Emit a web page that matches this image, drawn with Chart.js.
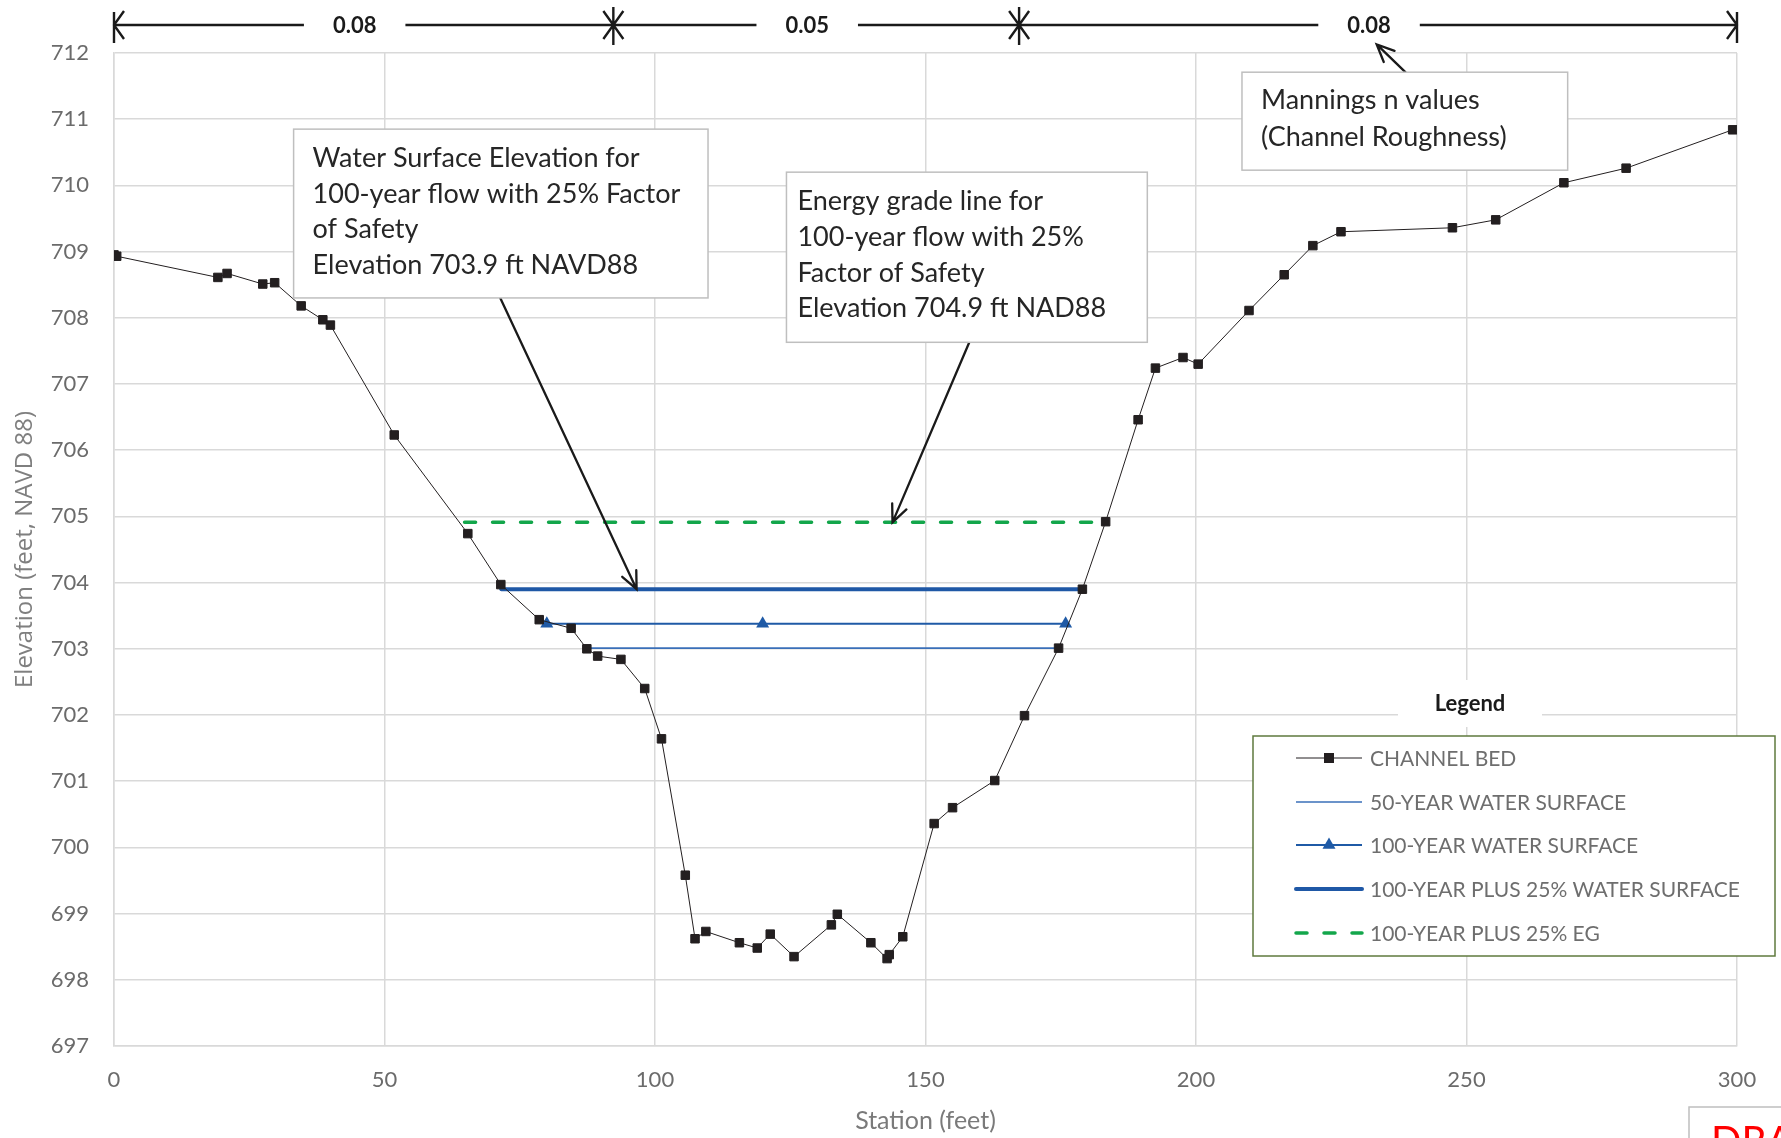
<!DOCTYPE html>
<html>
<head>
<meta charset="utf-8">
<script src="https://cdn.jsdelivr.net/npm/chart.js@4.4.0/dist/chart.umd.min.js"></script>
<style>
  html, body { margin: 0; padding: 0; background: #fff; }
  #wrap { width: 1781px; height: 1138px; }
</style>
</head>
<body>
<div id="wrap"><canvas id="xsChart" width="1781" height="1138"></canvas></div>
<script>
// Channel bed survey (station ft / elevation ft)
const bedStation = [0, 0.5, 19.2, 20.9, 27.5, 29.7, 34.6, 38.6, 40.0, 51.8,
  65.4, 71.5, 78.6, 84.5, 87.4, 89.4, 93.7, 98.1, 101.2, 105.6,
  107.4, 109.4, 115.6, 118.9, 121.3, 125.7, 132.6, 133.7, 139.9, 142.9,
  143.3, 145.8, 151.6, 155.0, 162.8, 168.3, 174.6, 179.0, 183.3, 189.3,
  192.5, 197.6, 200.4, 209.8, 216.3, 221.6, 226.8, 247.4, 255.4, 268.0,
  279.5, 299.2];
const bedElevation = [708.95, 708.93, 708.61, 708.67, 708.51, 708.53, 708.18, 707.97, 707.89, 706.23,
  704.74, 703.97, 703.44, 703.31, 703.0, 702.89, 702.84, 702.40, 701.64, 699.58,
  698.62, 698.73, 698.56, 698.48, 698.69, 698.35, 698.83, 698.99, 698.56, 698.32,
  698.38, 698.65, 700.36, 700.60, 701.01, 701.99, 703.01, 703.90, 704.92, 706.46,
  707.24, 707.40, 707.30, 708.11, 708.65, 709.09, 709.30, 709.36, 709.48, 710.04,
  710.26, 710.84];

// Water surfaces
const ws50Station = [87.9, 174.4];
const ws50Elevation = [703.01, 703.01];
const ws100Station = [80.0, 119.9, 175.9];
const ws100Elevation = [703.38, 703.38, 703.38];
const ws125Station = [71.6, 179.0];
const ws125Elevation = [703.9, 703.9];
const eg125Station = [64.8, 183.8];
const eg125Elevation = [704.91, 704.91];

const seriesLabels = ['CHANNEL BED', '50-YEAR WATER SURFACE', '100-YEAR WATER SURFACE',
  '100-YEAR PLUS 25% WATER SURFACE', '100-YEAR PLUS 25% EG'];

const stationTicks = [0, 50, 100, 150, 200, 250, 300];
const elevationTicks = [697, 698, 699, 700, 701, 702, 703, 704, 705, 706, 707, 708, 709, 710, 711, 712];

// Mannings n reaches (station breaks) and values
const nBreaks = [0, 92.3, 167.3, 300];
const nValues = ['0.08', '0.05', '0.08'];

function pts(xs, ys) {
    return xs.map((x, i) => ({ x: x, y: ys[i] }));
}

const GRID = '#d9d9d9';
const TICK_COLOR = '#6b6b6b';

// annotations, n-value bar, legend, draft stamp
const notesPlugin = {
    id: 'xsNotes',
    afterDatasetsDraw(chart) {
        const ctx = chart.ctx;
        const xs = chart.scales.x, ys = chart.scales.y;
        const px = v => xs.getPixelForValue(v);
        const py = v => ys.getPixelForValue(v);

        ctx.save();

        // text boxes
        function box(x0, y0, x1, y1, lines, padX, firstY, step) {
            const l = px(x0), t = py(y0), r = px(x1), b = py(y1);
            ctx.fillStyle = '#ffffff';
            ctx.fillRect(l, t, r - l, b - t);
            ctx.strokeStyle = '#bfbfbf';
            ctx.lineWidth = 1.5;
            ctx.strokeRect(l, t, r - l, b - t);
            ctx.fillStyle = '#262626';
            ctx.font = '27px Lato';
            ctx.textAlign = 'left';
            ctx.textBaseline = 'middle';
            lines.forEach((s, i) => ctx.fillText(s, l + padX, t + firstY + i * step));
        }

        function arrow(x0, y0, x1, y1) {
            const ang = Math.atan2(y1 - y0, x1 - x0);
            const len = 19, spread = 0.42;
            ctx.strokeStyle = '#1a1a1a';
            ctx.lineWidth = 2.3;
            ctx.lineCap = 'round';
            ctx.beginPath();
            ctx.moveTo(x0, y0);
            ctx.lineTo(x1, y1);
            ctx.moveTo(x1 - len * Math.cos(ang - spread), y1 - len * Math.sin(ang - spread));
            ctx.lineTo(x1, y1);
            ctx.lineTo(x1 - len * Math.cos(ang + spread), y1 - len * Math.sin(ang + spread));
            ctx.stroke();
        }

        // arrows first so boxes sit over their tails
        arrow(px(71.4), py(708.3), px(96.6), py(703.9));
        arrow(px(158.1), py(707.63), px(143.9), py(704.91));
        arrow(px(238.7), py(711.71), px(233.4), py(712.13));

        box(33.2, 710.85, 109.8, 708.3,
            ['Water Surface Elevation for', '100-year flow with 25% Factor', 'of Safety', 'Elevation 703.9 ft NAVD88'],
            19, 29.5, 35.5);
        box(124.3, 710.2, 191.0, 707.63,
            ['Energy grade line for', '100-year flow with 25%', 'Factor of Safety', 'Elevation 704.9 ft NAD88'],
            11, 29.6, 35.6);
        box(208.5, 711.71, 268.7, 710.23,
            ['Mannings n values', '(Channel Roughness)'],
            19, 28.5, 36.4);

        // Mannings n bar above the plot
        const barY = chart.chartArea.top - 28;
        ctx.strokeStyle = '#1a1a1a';
        ctx.lineWidth = 2.4;
        ctx.lineCap = 'butt';
        ctx.font = 'bold 22px Lato';
        ctx.textAlign = 'center';
        ctx.textBaseline = 'middle';
        ctx.fillStyle = '#1a1a1a';
        for (let i = 0; i < nValues.length; i++) {
            const a = px(nBreaks[i]), b = px(nBreaks[i + 1]);
            const cx = (a + b) / 2 - 9;
            const half = ctx.measureText(nValues[i]).width / 2 + 29;
            ctx.beginPath();
            ctx.moveTo(a, barY); ctx.lineTo(cx - half, barY);
            ctx.moveTo(cx + half, barY); ctx.lineTo(b, barY);
            ctx.stroke();
            ctx.fillText(nValues[i], cx, barY + 1);
        }
        nBreaks.forEach((s, i) => {
            const x = px(s);
            const end = i === 0 || i === nBreaks.length - 1;
            ctx.beginPath();
            ctx.moveTo(x, end ? barY - 13 : barY - 18);
            ctx.lineTo(x, end ? barY + 18 : barY + 20);
            const dx = 10, dy = 14;
            if (i > 0) { // arrow pointing right into the break
                ctx.moveTo(x - dx, barY - dy); ctx.lineTo(x, barY); ctx.lineTo(x - dx, barY + dy);
            }
            if (i < nBreaks.length - 1) { // arrow pointing left into the break
                ctx.moveTo(x + dx, barY - dy); ctx.lineTo(x, barY); ctx.lineTo(x + dx, barY + dy);
            }
            ctx.stroke();
        });

        // legend
        const lg = { left: 1253, top: 736, right: 1775, bottom: 956 };
        ctx.fillStyle = '#ffffff';
        ctx.fillRect(1398, 680, 144, 47);
        ctx.fillStyle = '#1a1a1a';
        ctx.font = 'bold 22px Lato';
        ctx.textAlign = 'center';
        ctx.fillText('Legend', 1470, 704);

        ctx.fillStyle = '#ffffff';
        ctx.fillRect(lg.left, lg.top, lg.right - lg.left, lg.bottom - lg.top);
        ctx.strokeStyle = '#5f7a3e';
        ctx.lineWidth = 1.5;
        ctx.strokeRect(lg.left, lg.top, lg.right - lg.left, lg.bottom - lg.top);

        const rowY = [758, 802, 845, 889, 933];
        chart.data.datasets.forEach((ds, i) => {
            const y = rowY[i];
            ctx.save();
            ctx.strokeStyle = ds.borderColor;
            ctx.lineWidth = ds.borderWidth;
            ctx.lineCap = ds.borderCapStyle || 'butt';
            ctx.setLineDash(ds.borderDash || []);
            ctx.beginPath();
            ctx.moveTo(1296, y);
            ctx.lineTo(1362, y);
            ctx.stroke();
            ctx.restore();
            if (ds.pointRadius > 0) {
                ctx.fillStyle = ds.pointBackgroundColor;
                ctx.strokeStyle = ds.pointBorderColor;
                Chart.helpers.drawPoint(ctx, {
                    pointStyle: ds.pointStyle, radius: ds.pointRadius,
                    borderWidth: ds.pointBorderWidth, rotation: 0
                }, 1329, y);
            }
            ctx.fillStyle = '#6e6e6e';
            ctx.font = '21px Lato';
            ctx.textAlign = 'left';
            ctx.textBaseline = 'middle';
            ctx.fillText(ds.label, 1370, y + 1);
        });

        // draft stamp, cut off by the page edge
        ctx.strokeStyle = '#bfbfbf';
        ctx.lineWidth = 1.5;
        ctx.strokeRect(1689, 1107, 140, 80);
        ctx.fillStyle = '#ff0000';
        ctx.font = '40px Lato';
        ctx.textAlign = 'left';
        ctx.textBaseline = 'top';
        ctx.fillText('DRAFT', 1711, 1122);

        ctx.restore();
    }
};

const ctx = document.getElementById('xsChart').getContext('2d');
new Chart(ctx, {
    type: 'scatter',
    data: {
        datasets: [{
            label: seriesLabels[0],
            data: pts(bedStation, bedElevation),
            showLine: true,
            borderColor: '#231f20',
            borderWidth: 1,
            pointStyle: 'rect',
            pointRadius: 6,
            pointBackgroundColor: '#231f20',
            pointBorderColor: '#231f20',
            pointBorderWidth: 1
        }, {
            label: seriesLabels[1],
            data: pts(ws50Station, ws50Elevation),
            showLine: true,
            borderColor: '#3a6fb8',
            borderWidth: 1.6,
            pointRadius: 0
        }, {
            label: seriesLabels[2],
            data: pts(ws100Station, ws100Elevation),
            showLine: true,
            borderColor: '#1f5aa6',
            borderWidth: 2,
            pointStyle: 'triangle',
            pointRadius: 7.5,
            pointBackgroundColor: '#1f5aa6',
            pointBorderColor: '#1f5aa6',
            pointBorderWidth: 0
        }, {
            label: seriesLabels[3],
            data: pts(ws125Station, ws125Elevation),
            showLine: true,
            borderColor: '#1f58a6',
            borderWidth: 4,
            borderCapStyle: 'round',
            pointRadius: 0
        }, {
            label: seriesLabels[4],
            data: pts(eg125Station, eg125Elevation),
            showLine: true,
            borderColor: '#13a64b',
            borderWidth: 3.5,
            borderDash: [11, 17],
            borderCapStyle: 'round',
            pointRadius: 0
        }]
    },
    options: {
        responsive: false,
        animation: false,
        devicePixelRatio: 1,
        layout: { padding: { top: 53, right: 44, left: 0, bottom: 0 } },
        plugins: {
            legend: { display: false },
            tooltip: { enabled: false }
        },
        scales: {
            x: {
                type: 'linear',
                min: 0,
                max: 300,
                afterBuildTicks: s => { s.ticks = stationTicks.map(v => ({ value: v })); },
                afterFit: s => { s.height = 92; },
                grid: { color: GRID, lineWidth: 1.5, drawTicks: false },
                border: { color: GRID, width: 1.5 },
                ticks: { color: TICK_COLOR, font: { family: 'Lato', size: 22 }, padding: 21 },
                title: {
                    display: true,
                    text: 'Station (feet)',
                    color: '#7a7a7a',
                    font: { family: 'Lato', size: 25 },
                    padding: { top: 0, bottom: 2 }
                }
            },
            y: {
                type: 'linear',
                min: 697,
                max: 712,
                afterBuildTicks: s => { s.ticks = elevationTicks.map(v => ({ value: v })); },
                afterFit: s => { s.width = 114; },
                grid: { color: GRID, lineWidth: 1.5, drawTicks: false },
                border: { color: GRID, width: 1.5 },
                ticks: { color: TICK_COLOR, font: { family: 'Lato', size: 22 }, padding: 25 },
                title: {
                    display: true,
                    text: 'Elevation (feet, NAVD 88)',
                    color: '#7f7f7f',
                    font: { family: 'Open Sans', size: 24 },
                    padding: { top: 11, bottom: 0 }
                }
            }
        }
    },
    plugins: [notesPlugin]
});
</script>
</body>
</html>
